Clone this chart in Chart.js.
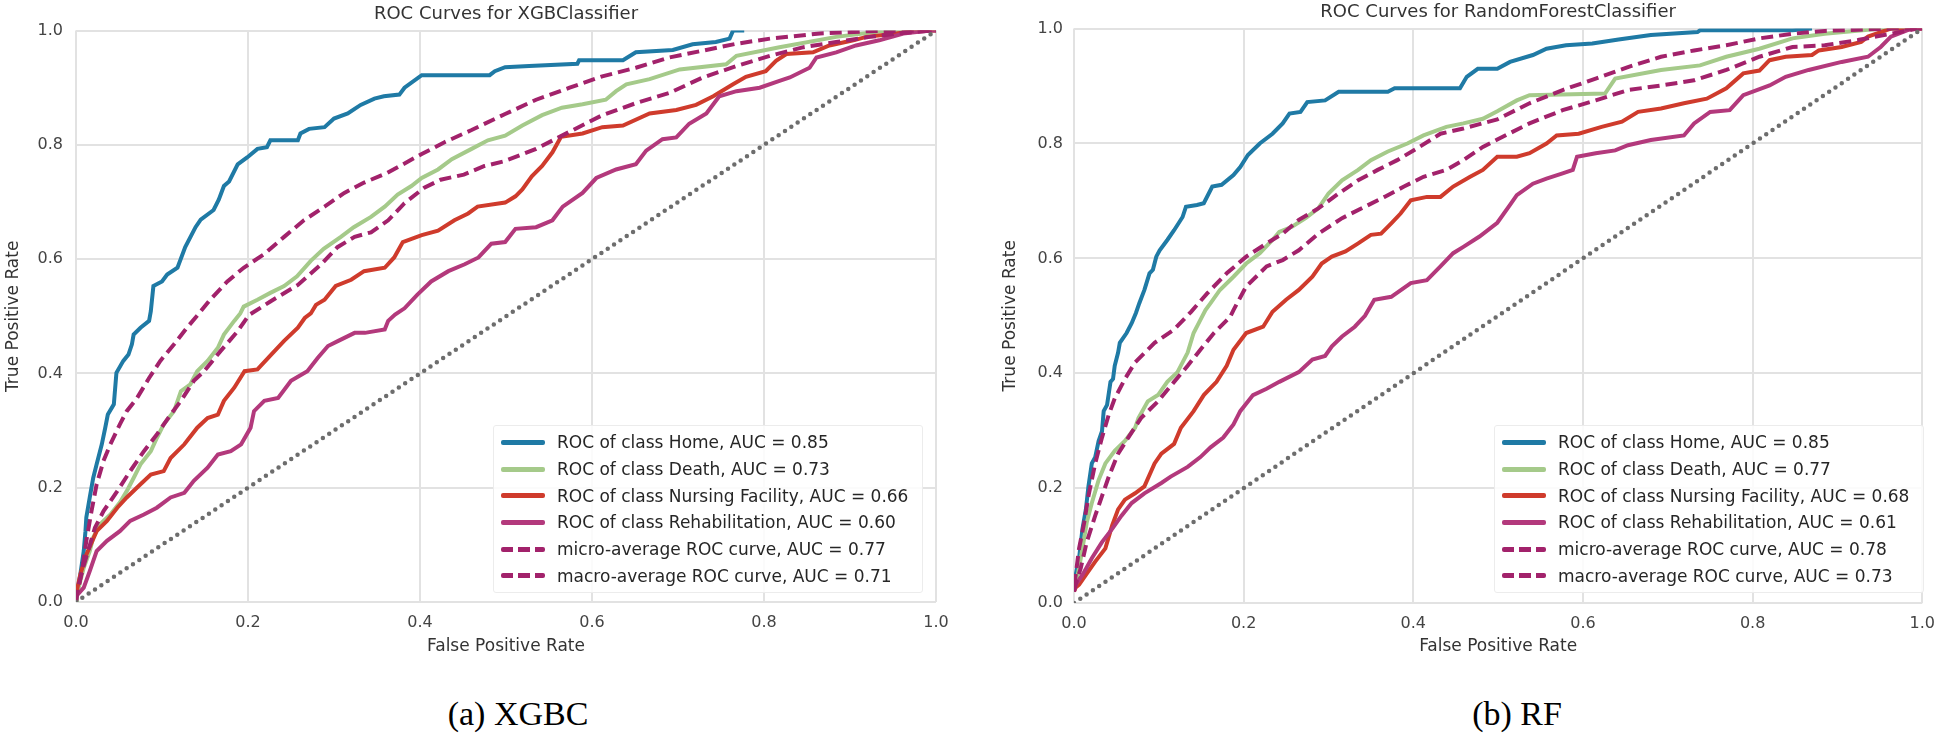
<!DOCTYPE html>
<html>
<head>
<meta charset="utf-8">
<script src="https://cdn.jsdelivr.net/npm/chart.js@4.4.1/dist/chart.umd.min.js"></script>
<style>
  body { margin: 0; background: #fff; width: 1946px; height: 740px; position: relative; overflow: hidden; font-family: 'DejaVu Sans', sans-serif; }
  canvas { position: absolute; top: 0; }
  #xgbCanvas { left: 0; }
  #rfCanvas { left: 973px; }
  .legend { position: absolute; top: 425px; width: 430px; height: 168px; box-sizing: border-box; padding-top: 3px;
            background: rgba(255,255,255,0.85); border: 1px solid #ececec; border-radius: 3px; }
  .legend .row { display: flex; align-items: center; height: 26.7px; font-size: 17px; color: #262626; white-space: nowrap; }
  .legend .swatch { width: 44px; height: 5px; margin: 0 12px 0 7px; border-radius: 2px; }
  .caption { position: absolute; top: 695px; font-family: 'Liberation Serif', serif; font-size: 34px; color: #000; transform: translateX(-50%); white-space: nowrap; }
</style>
</head>
<body>
<canvas id="xgbCanvas" width="973" height="665"></canvas>
<canvas id="rfCanvas" width="973" height="666"></canvas>
<div class="legend" id="xgbLegend" style="left:493px"></div>
<div class="legend" id="rfLegend" style="left:1494px"></div>
<div class="caption" style="left:518px">(a) XGBC</div>
<div class="caption" style="left:1517px">(b) RF</div>
<script>
const classNames = ['Home', 'Death', 'Nursing Facility', 'Rehabilitation'];
const xgbAuc = [0.85, 0.73, 0.66, 0.60, 0.77, 0.71];
const rfAuc = [0.85, 0.77, 0.68, 0.61, 0.78, 0.73];
const tickValues = [0, 0.2, 0.4, 0.6, 0.8, 1.0];
const chanceLine = [[0, 0], [1, 1]];

// [fpr, tpr] points
const xgbHome = [[0,0],[0.001,0.013],[0.005,0.048],[0.009,0.089],[0.011,0.124],[0.012,0.148],[0.016,0.183],[0.020,0.217],[0.024,0.241],[0.030,0.276],[0.034,0.305],[0.037,0.328],[0.044,0.346],[0.047,0.401],[0.055,0.422],[0.061,0.433],[0.065,0.451],[0.067,0.468],[0.075,0.480],[0.085,0.492],[0.087,0.509],[0.090,0.553],[0.100,0.561],[0.106,0.573],[0.118,0.585],[0.127,0.621],[0.139,0.656],[0.145,0.669],[0.160,0.686],[0.166,0.704],[0.172,0.728],[0.178,0.736],[0.188,0.766],[0.199,0.778],[0.211,0.793],[0.222,0.796],[0.226,0.808],[0.258,0.808],[0.261,0.820],[0.271,0.828],[0.289,0.831],[0.300,0.846],[0.316,0.855],[0.331,0.870],[0.347,0.881],[0.358,0.885],[0.376,0.888],[0.382,0.900],[0.402,0.922],[0.481,0.922],[0.487,0.929],[0.499,0.936],[0.527,0.938],[0.583,0.942],[0.585,0.948],[0.636,0.948],[0.651,0.962],[0.694,0.966],[0.717,0.976],[0.744,0.980],[0.760,0.986],[0.764,1.0],[0.777,1.0]];
const xgbDeath = [[0,0],[0.001,0.013],[0.009,0.060],[0.016,0.089],[0.020,0.113],[0.028,0.136],[0.040,0.153],[0.051,0.174],[0.059,0.194],[0.067,0.217],[0.075,0.241],[0.087,0.264],[0.094,0.287],[0.102,0.311],[0.114,0.334],[0.122,0.369],[0.133,0.381],[0.141,0.404],[0.153,0.422],[0.165,0.445],[0.172,0.468],[0.184,0.492],[0.191,0.505],[0.195,0.517],[0.211,0.529],[0.226,0.541],[0.242,0.553],[0.257,0.570],[0.273,0.597],[0.288,0.618],[0.308,0.639],[0.323,0.656],[0.343,0.674],[0.359,0.692],[0.374,0.713],[0.390,0.728],[0.402,0.742],[0.421,0.757],[0.437,0.775],[0.460,0.793],[0.479,0.808],[0.499,0.816],[0.519,0.834],[0.542,0.852],[0.565,0.865],[0.589,0.871],[0.616,0.879],[0.628,0.894],[0.640,0.906],[0.667,0.915],[0.702,0.932],[0.756,0.941],[0.768,0.956],[0.818,0.971],[0.884,0.989],[0.943,1.0],[1,1]];
const xgbNursing = [[0,0],[0,0.013],[0.005,0.048],[0.012,0.083],[0.024,0.124],[0.036,0.142],[0.048,0.165],[0.059,0.183],[0.075,0.206],[0.087,0.223],[0.102,0.229],[0.110,0.252],[0.126,0.276],[0.141,0.305],[0.153,0.322],[0.165,0.328],[0.172,0.352],[0.184,0.375],[0.196,0.404],[0.211,0.407],[0.227,0.433],[0.242,0.457],[0.258,0.480],[0.266,0.497],[0.273,0.505],[0.279,0.520],[0.289,0.529],[0.302,0.553],[0.320,0.564],[0.335,0.579],[0.359,0.585],[0.370,0.603],[0.380,0.630],[0.402,0.642],[0.421,0.650],[0.440,0.668],[0.456,0.680],[0.467,0.692],[0.499,0.699],[0.511,0.710],[0.519,0.722],[0.530,0.745],[0.542,0.763],[0.554,0.787],[0.564,0.814],[0.589,0.820],[0.612,0.831],[0.636,0.834],[0.667,0.855],[0.698,0.861],[0.721,0.870],[0.741,0.885],[0.764,0.906],[0.779,0.919],[0.802,0.929],[0.814,0.947],[0.826,0.959],[0.857,0.962],[0.876,0.974],[0.904,0.983],[0.919,0.989],[0.954,0.995],[0.977,1.0],[1,1]];
const xgbRehab = [[0,0],[0,0.010],[0.009,0.025],[0.016,0.054],[0.024,0.089],[0.036,0.107],[0.051,0.124],[0.063,0.142],[0.079,0.153],[0.094,0.165],[0.110,0.183],[0.126,0.191],[0.137,0.212],[0.153,0.235],[0.165,0.258],[0.180,0.264],[0.192,0.276],[0.203,0.305],[0.207,0.334],[0.219,0.352],[0.235,0.357],[0.250,0.387],[0.269,0.404],[0.281,0.427],[0.293,0.448],[0.305,0.457],[0.324,0.471],[0.336,0.471],[0.359,0.477],[0.363,0.492],[0.371,0.503],[0.382,0.514],[0.397,0.538],[0.413,0.561],[0.433,0.579],[0.452,0.591],[0.468,0.603],[0.483,0.627],[0.499,0.630],[0.511,0.653],[0.535,0.656],[0.554,0.668],[0.566,0.692],[0.589,0.716],[0.605,0.742],[0.628,0.757],[0.651,0.766],[0.663,0.790],[0.682,0.810],[0.698,0.813],[0.713,0.837],[0.733,0.855],[0.748,0.885],[0.768,0.894],[0.795,0.900],[0.818,0.912],[0.830,0.918],[0.853,0.935],[0.861,0.953],[0.884,0.962],[0.907,0.974],[0.934,0.983],[0.962,0.995],[0.993,1.0],[1,1]];
const xgbMicro = [[0,0],[0.001,0.013],[0.007,0.054],[0.012,0.107],[0.018,0.159],[0.024,0.206],[0.032,0.247],[0.040,0.276],[0.051,0.311],[0.059,0.334],[0.071,0.357],[0.085,0.392],[0.098,0.422],[0.114,0.451],[0.129,0.480],[0.143,0.505],[0.156,0.529],[0.176,0.561],[0.195,0.585],[0.219,0.609],[0.242,0.639],[0.265,0.668],[0.289,0.692],[0.312,0.716],[0.335,0.734],[0.362,0.751],[0.402,0.784],[0.429,0.805],[0.460,0.826],[0.499,0.854],[0.535,0.879],[0.574,0.900],[0.612,0.920],[0.651,0.935],[0.690,0.953],[0.729,0.965],[0.768,0.977],[0.807,0.986],[0.865,0.995],[0.923,0.999],[0.993,1.0],[1,1]];
const xgbMacro = [[0,0],[0.001,0.013],[0.007,0.054],[0.014,0.089],[0.022,0.130],[0.032,0.159],[0.048,0.194],[0.063,0.229],[0.079,0.264],[0.094,0.293],[0.110,0.328],[0.122,0.352],[0.137,0.387],[0.149,0.404],[0.168,0.439],[0.188,0.474],[0.201,0.502],[0.226,0.526],[0.258,0.555],[0.285,0.591],[0.304,0.621],[0.324,0.639],[0.343,0.647],[0.363,0.668],[0.382,0.698],[0.405,0.725],[0.424,0.739],[0.451,0.748],[0.475,0.763],[0.497,0.771],[0.535,0.793],[0.574,0.823],[0.612,0.852],[0.651,0.873],[0.690,0.891],[0.729,0.918],[0.768,0.938],[0.807,0.956],[0.846,0.971],[0.884,0.980],[0.923,0.989],[0.962,0.996],[0.993,1.0],[1,1]];

// [fpr, tpr] points
const rfHome = [[0,0.030],[0.002,0.049],[0.006,0.078],[0.010,0.129],[0.014,0.163],[0.017,0.203],[0.021,0.243],[0.025,0.254],[0.029,0.282],[0.033,0.299],[0.035,0.334],[0.039,0.345],[0.043,0.385],[0.046,0.390],[0.048,0.413],[0.052,0.436],[0.054,0.453],[0.062,0.470],[0.068,0.487],[0.073,0.505],[0.077,0.522],[0.083,0.545],[0.089,0.574],[0.093,0.580],[0.097,0.603],[0.101,0.614],[0.110,0.632],[0.118,0.649],[0.128,0.672],[0.132,0.690],[0.145,0.693],[0.153,0.696],[0.163,0.725],[0.174,0.728],[0.188,0.745],[0.196,0.759],[0.205,0.780],[0.219,0.800],[0.234,0.817],[0.246,0.835],[0.254,0.852],[0.267,0.855],[0.275,0.872],[0.296,0.875],[0.312,0.890],[0.370,0.890],[0.378,0.896],[0.455,0.896],[0.463,0.916],[0.476,0.930],[0.499,0.930],[0.514,0.942],[0.541,0.954],[0.557,0.965],[0.580,0.971],[0.611,0.974],[0.642,0.981],[0.680,0.989],[0.735,0.994],[0.738,0.997],[0.847,0.997],[0.870,1.0]];
const rfDeath = [[0.002,0.030],[0.006,0.061],[0.010,0.095],[0.015,0.140],[0.021,0.174],[0.029,0.214],[0.037,0.243],[0.048,0.265],[0.060,0.282],[0.072,0.305],[0.076,0.322],[0.087,0.351],[0.099,0.362],[0.110,0.385],[0.122,0.402],[0.134,0.436],[0.141,0.470],[0.149,0.493],[0.155,0.510],[0.161,0.522],[0.172,0.545],[0.188,0.568],[0.203,0.591],[0.219,0.609],[0.234,0.632],[0.242,0.646],[0.257,0.655],[0.273,0.670],[0.288,0.687],[0.300,0.713],[0.316,0.736],[0.335,0.754],[0.350,0.771],[0.370,0.786],[0.393,0.800],[0.412,0.814],[0.439,0.829],[0.459,0.835],[0.482,0.843],[0.499,0.856],[0.522,0.875],[0.537,0.884],[0.626,0.887],[0.638,0.913],[0.692,0.928],[0.738,0.936],[0.769,0.951],[0.808,0.965],[0.847,0.983],[0.885,0.991],[0.936,0.998],[0.955,1.0],[1,1]];
const rfNursing = [[0,0.020],[0.002,0.027],[0.006,0.032],[0.014,0.049],[0.025,0.072],[0.037,0.095],[0.045,0.135],[0.052,0.163],[0.060,0.180],[0.072,0.191],[0.083,0.203],[0.095,0.243],[0.103,0.260],[0.118,0.277],[0.126,0.305],[0.141,0.334],[0.153,0.362],[0.168,0.385],[0.180,0.413],[0.188,0.441],[0.203,0.470],[0.223,0.481],[0.234,0.507],[0.250,0.528],[0.265,0.545],[0.281,0.568],[0.292,0.591],[0.304,0.603],[0.320,0.612],[0.335,0.626],[0.350,0.641],[0.362,0.643],[0.374,0.661],[0.385,0.678],[0.397,0.701],[0.416,0.707],[0.432,0.707],[0.447,0.725],[0.467,0.742],[0.482,0.754],[0.499,0.777],[0.522,0.777],[0.537,0.783],[0.557,0.800],[0.569,0.814],[0.595,0.817],[0.622,0.829],[0.646,0.838],[0.665,0.855],[0.692,0.861],[0.719,0.870],[0.746,0.878],[0.769,0.896],[0.789,0.922],[0.808,0.927],[0.820,0.945],[0.839,0.951],[0.870,0.954],[0.878,0.962],[0.905,0.968],[0.928,0.977],[0.936,0.986],[0.951,0.994],[0.963,1.0],[1,1]];
const rfRehab = [[0,0.020],[0.002,0.032],[0.010,0.049],[0.021,0.078],[0.033,0.106],[0.045,0.129],[0.056,0.152],[0.068,0.174],[0.083,0.191],[0.103,0.209],[0.114,0.220],[0.134,0.237],[0.149,0.254],[0.161,0.271],[0.176,0.288],[0.188,0.311],[0.196,0.334],[0.211,0.362],[0.227,0.373],[0.242,0.385],[0.265,0.402],[0.281,0.424],[0.296,0.430],[0.304,0.447],[0.316,0.464],[0.331,0.481],[0.343,0.500],[0.354,0.528],[0.374,0.533],[0.397,0.557],[0.416,0.562],[0.432,0.586],[0.447,0.609],[0.459,0.620],[0.478,0.638],[0.499,0.662],[0.514,0.693],[0.522,0.710],[0.541,0.730],[0.557,0.739],[0.576,0.748],[0.588,0.754],[0.593,0.777],[0.615,0.783],[0.638,0.788],[0.653,0.797],[0.680,0.806],[0.719,0.814],[0.731,0.835],[0.750,0.855],[0.773,0.858],[0.789,0.884],[0.820,0.901],[0.839,0.916],[0.866,0.928],[0.905,0.942],[0.936,0.951],[0.951,0.968],[0.963,0.986],[0.982,0.997],[0.990,1.0],[1,1]];
const rfMicro = [[0,0.030],[0.002,0.049],[0.006,0.095],[0.012,0.140],[0.017,0.186],[0.025,0.243],[0.033,0.288],[0.041,0.328],[0.048,0.356],[0.060,0.390],[0.072,0.419],[0.095,0.453],[0.118,0.476],[0.138,0.507],[0.157,0.539],[0.180,0.574],[0.203,0.603],[0.227,0.626],[0.246,0.643],[0.265,0.667],[0.288,0.687],[0.312,0.713],[0.335,0.736],[0.358,0.754],[0.381,0.771],[0.404,0.791],[0.432,0.817],[0.459,0.826],[0.499,0.842],[0.537,0.870],[0.576,0.893],[0.615,0.913],[0.653,0.933],[0.692,0.951],[0.731,0.962],[0.769,0.971],[0.808,0.983],[0.847,0.991],[0.885,0.996],[0.924,0.998],[0.963,1.0],[1,1]];
const rfMacro = [[0,0.020],[0.002,0.032],[0.008,0.061],[0.015,0.106],[0.025,0.152],[0.033,0.186],[0.041,0.220],[0.052,0.260],[0.064,0.288],[0.079,0.322],[0.099,0.351],[0.118,0.385],[0.134,0.413],[0.149,0.441],[0.165,0.470],[0.184,0.498],[0.188,0.510],[0.203,0.551],[0.227,0.586],[0.246,0.597],[0.265,0.614],[0.288,0.643],[0.316,0.670],[0.343,0.690],[0.366,0.707],[0.389,0.725],[0.412,0.742],[0.439,0.754],[0.459,0.771],[0.482,0.794],[0.499,0.807],[0.537,0.835],[0.576,0.858],[0.615,0.875],[0.653,0.893],[0.692,0.901],[0.731,0.910],[0.769,0.928],[0.808,0.951],[0.847,0.968],[0.885,0.971],[0.924,0.980],[0.963,0.991],[0.994,1.0],[1,1]];

const curveColors = ['#1f7aa5', '#a5ca8a', '#cf3b2c', '#b3397c', '#a2226b', '#a2226b'];
const fontFamily = "'DejaVu Sans', sans-serif";

function legendLabels(auc) {
  const labels = classNames.map((name, i) => `ROC of class ${name}, AUC = ${auc[i].toFixed(2)}`);
  labels.push(`micro-average ROC curve, AUC = ${auc[4].toFixed(2)}`);
  labels.push(`macro-average ROC curve, AUC = ${auc[5].toFixed(2)}`);
  return labels;
}

function buildLegend(el, auc) {
  legendLabels(auc).forEach((text, i) => {
    const row = document.createElement('div');
    row.className = 'row';
    const swatch = document.createElement('span');
    swatch.className = 'swatch';
    if (i < 4) {
      swatch.style.background = curveColors[i];
    } else {
      swatch.style.background = `repeating-linear-gradient(90deg, ${curveColors[i]} 0 12px, transparent 12px 17px)`;
    }
    const label = document.createElement('span');
    label.textContent = text;
    row.appendChild(swatch);
    row.appendChild(label);
    el.appendChild(row);
  });
}

function drawRoc(canvasId, title, curves, auc, layout) {
  const labels = legendLabels(auc);
  const datasets = curves.map((pts, i) => ({
    label: labels[i],
    data: pts.map(p => ({ x: p[0], y: p[1] })),
    borderColor: curveColors[i],
    borderWidth: 4,
    borderDash: i < 4 ? [] : [12, 6],
    pointRadius: 0,
    tension: 0,
    fill: false,
    order: curves.length - i
  }));
  datasets.push({
    label: 'chance',
    data: chanceLine.map(p => ({ x: p[0], y: p[1] })),
    borderColor: '#6d6d6d',
    borderWidth: 4.5,
    borderDash: [0, 7.6],
    borderCapStyle: 'round',
    pointRadius: 0,
    order: 0
  });

  const axisTicks = scale => { scale.ticks = tickValues.map(v => ({ value: v })); };

  new Chart(document.getElementById(canvasId), {
    type: 'line',
    data: { datasets },
    options: {
      responsive: false,
      animation: false,
      devicePixelRatio: 1,
      layout: { padding: { left: 0, right: layout.padRight, top: 0, bottom: 0 } },
      plugins: {
        legend: { display: false },
        tooltip: { enabled: false },
        title: {
          display: true,
          text: title,
          fullSize: false,
          color: '#333',
          font: { family: fontFamily, size: 18, weight: 'normal' },
          padding: { top: layout.titleTop, bottom: 5 }
        }
      },
      scales: {
        x: {
          type: 'linear',
          min: 0,
          max: 1,
          afterBuildTicks: axisTicks,
          afterFit: s => { s.height = 63; },
          ticks: { callback: v => v.toFixed(1), color: '#444', font: { family: fontFamily, size: 16 }, padding: 11, maxRotation: 0 },
          grid: { color: '#e2e2e2', lineWidth: 2, drawTicks: false },
          border: { display: false },
          title: { display: true, text: 'False Positive Rate', color: '#333', font: { family: fontFamily, size: 17 }, padding: { top: 0, bottom: layout.xTitleBottom } }
        },
        y: {
          type: 'linear',
          min: 0,
          max: 1,
          afterBuildTicks: axisTicks,
          afterFit: s => { s.width = layout.yWidth; },
          ticks: { callback: v => v.toFixed(1), color: '#444', font: { family: fontFamily, size: 16 }, padding: layout.yTickPad },
          grid: { color: '#e2e2e2', lineWidth: 2, drawTicks: false },
          border: { display: false },
          title: { display: true, text: 'True Positive Rate', color: '#333', font: { family: fontFamily, size: 17 }, padding: { top: layout.yTitleTop, bottom: 0 } }
        }
      }
    }
  });
}

drawRoc('xgbCanvas', 'ROC Curves for XGBClassifier',
  [xgbHome, xgbDeath, xgbNursing, xgbRehab, xgbMicro, xgbMacro], xgbAuc,
  { padRight: 37, titleTop: 4, yWidth: 76, yTickPad: 13, yTitleTop: 3, xTitleBottom: 8 });
drawRoc('rfCanvas', 'ROC Curves for RandomForestClassifier',
  [rfHome, rfDeath, rfNursing, rfRehab, rfMicro, rfMacro], rfAuc,
  { padRight: 16, titleTop: 2, yWidth: 101, yTickPad: 11, yTitleTop: 27, xTitleBottom: 9 });

buildLegend(document.getElementById('xgbLegend'), xgbAuc);
buildLegend(document.getElementById('rfLegend'), rfAuc);
</script>
</body>
</html>
